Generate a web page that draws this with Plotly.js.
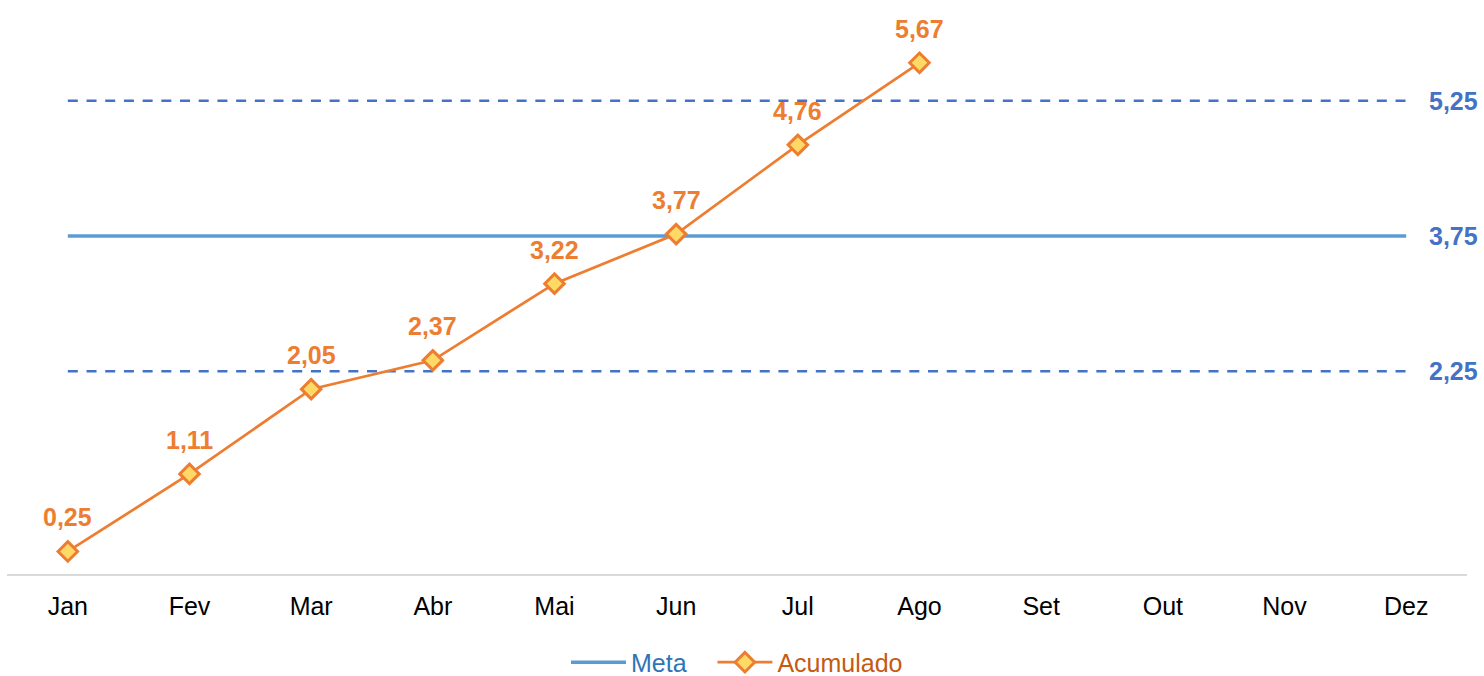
<!DOCTYPE html>
<html>
<head>
<meta charset="utf-8">
<script src="https://cdn.plot.ly/plotly-3.0.1.min.js"></script>
<style>html,body{margin:0;padding:0;background:#fff;}#chart{width:1484px;height:676px;}</style>
</head>
<body>
<div id="chart"></div>
<script>
const months = ['Jan','Fev','Mar','Abr','Mai','Jun','Jul','Ago','Set','Out','Nov','Dez'];
const acumMonths = ['Jan','Fev','Mar','Abr','Mai','Jun','Jul','Ago'];
const acumulado = [0.25, 1.11, 2.05, 2.37, 3.22, 3.77, 4.76, 5.67];
const metaValue = 3.75;
const lowerValue = 2.25;
const upperValue = 5.25;

const fmt = v => v.toFixed(2).replace('.', ',');
const FONT = 'Liberation Sans, Arial, sans-serif';

const traces = [
  {
    x: months, y: months.map(() => upperValue), type: 'scatter', mode: 'lines',
    line: {color: '#4472c4', width: 2.5, dash: '10px,8.7px'}, showlegend: false, hoverinfo: 'skip'
  },
  {
    x: months, y: months.map(() => lowerValue), type: 'scatter', mode: 'lines',
    line: {color: '#4472c4', width: 2.5, dash: '10px,8.7px'}, showlegend: false, hoverinfo: 'skip'
  },
  {
    x: months, y: months.map(() => metaValue), type: 'scatter', mode: 'lines',
    name: '<span style="color:#2e75b6">Meta</span>\u00a0\u00a0\u00a0',
    line: {color: '#5b9bd5', width: 3.5}
  },
  {
    x: acumMonths, y: acumulado, type: 'scatter', mode: 'lines+markers',
    name: '<span style="color:#c55a11">Acumulado</span>',
    line: {color: '#ed7d31', width: 2.75},
    marker: {symbol: 'diamond', size: 15, color: '#ffd966', line: {color: '#ed7d31', width: 3}}
  }
];

const annotations = acumMonths.map((m, i) => ({
  x: m, y: acumulado[i], xref: 'x', yref: 'y', text: '<b>' + fmt(acumulado[i]) + '</b>',
  showarrow: false, yshift: 34, font: {family: FONT, size: 25, color: '#ed7d31'}
}));
[upperValue, metaValue, lowerValue].forEach(v => {
  annotations.push({
    x: 1, xref: 'paper', y: v, yref: 'y', xanchor: 'right', xshift: 13,
    text: '<b>' + fmt(v) + '</b>', showarrow: false,
    font: {family: FONT, size: 25, color: '#4472c4'}
  });
});

const layout = {
  width: 1484, height: 676,
  margin: {l: 7, r: 17, t: 15, b: 102},
  paper_bgcolor: '#fff', plot_bgcolor: '#fff',
  font: {family: FONT, size: 25, color: '#000'},
  xaxis: {
    type: 'category', categoryarray: months, categoryorder: 'array', range: [-0.5, 11.5],
    showgrid: false, zeroline: false, showline: true, linecolor: '#d9d9d9', linewidth: 2,
    ticks: '', tickfont: {family: FONT, size: 25, color: '#000'}, ticklabelstandoff: 9,
    automargin: false
  },
  yaxis: {range: [0, 6.2], visible: false, showgrid: false, zeroline: false, fixedrange: true},
  showlegend: true,
  legend: {
    orientation: 'h', x: 0.5, xanchor: 'center', xref: 'paper',
    y: 0.02, yanchor: 'middle', yref: 'container',
    font: {family: FONT, size: 25}, itemwidth: 55, traceorder: 'normal'
  },
  annotations: annotations
};

Plotly.newPlot('chart', traces, layout, {displayModeBar: false, staticPlot: true});
</script>
</body>
</html>
